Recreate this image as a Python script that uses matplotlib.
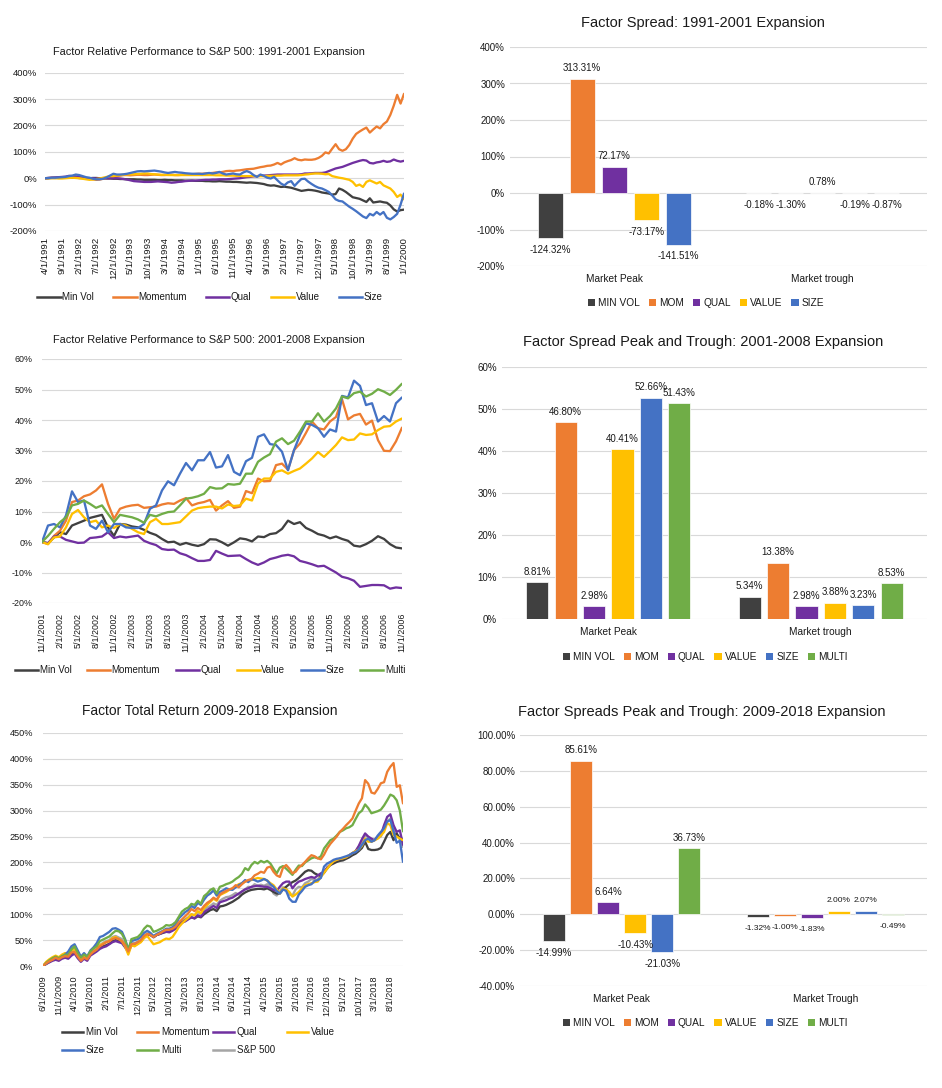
"""Six-panel factor performance figure: relative-performance lines and peak/trough spread bars."""

import matplotlib
matplotlib.use("Agg")
import matplotlib.pyplot as plt
from matplotlib.lines import Line2D
from matplotlib.patches import Patch

plt.rcParams["font.family"] = ["Liberation Sans", "DejaVu Sans"]

W, H = 942, 1088
TEXT = "#1a1a1a"
GRID = "#D9D9D9"

MIN_VOL_C = "#404040"
MOM_C = "#ED7D31"
QUAL_C = "#7030A0"
VALUE_C = "#FFC000"
SIZE_C = "#4472C4"
MULTI_C = "#70AD47"
SP_C = "#A5A5A5"

# ---------------- panel 1: 1991-2001 relative performance (monthly, %) ----------------
P1_XLABELS = ["4/1/1991", "9/1/1991", "2/1/1992", "7/1/1992", "12/1/1992", "5/1/1993",
              "10/1/1993", "3/1/1994", "8/1/1994", "1/1/1995", "6/1/1995", "11/1/1995",
              "4/1/1996", "9/1/1996", "2/1/1997", "7/1/1997", "12/1/1997", "5/1/1998",
              "10/1/1998", "3/1/1999", "8/1/1999", "1/1/2000"]
P1_MIN_VOL = [0, 0, 1, 1, 2, 2, 3, 3, 2, 2, 1, 1, 0, 0, 1, 1, 0, 0, -1, -1, -2,
              -2, -3, -3, -4, -4, -4, -5, -5, -6, -6,
              -6, -6, -7, -7, -6, -7, -7, -8, -8, -8, -9, -9, -9, -10, -10, -10, -11, -11, -12, -12,
              -11, -12, -13, -13, -14, -14, -15, -16, -17, -16,
              -17, -18, -20, -22, -26, -28, -27, -30, -33, -32,
              -34, -36, -40, -44, -48, -46, -44, -45, -47, -50,
              -54, -56, -58, -62, -60, -39, -44, -52, -62, -72,
              -75, -78, -84, -90, -76, -92, -90, -88, -91, -93,
              -103, -118, -126, -121, -119]
P1_MOMENTUM = [0, 1, 2, 2, 3, 2, 3, 3, 2, 2, 1, 1, 0, -2, -4, -6, -5, -2, 0, 3, 6,
               8, 10, 12, 12, 11, 12, 13, 13, 12, 12,
               13, 14, 13, 12, 12, 13, 13, 12, 12, 13,
               14, 15, 15, 16, 17, 17, 18, 19, 20, 22,
               22, 24, 27, 28, 27, 29, 30, 32, 34, 35,
               36, 39, 42, 44, 47, 48, 52, 58, 52, 60,
               65, 69, 76, 70, 68, 71, 70, 70, 72, 77,
               85, 98, 94, 112, 129, 110, 104, 110, 126, 150,
               168, 177, 185, 192, 173, 185, 196, 189, 205, 215,
               240, 275, 316, 283, 320]
P1_QUAL = [0, 1, 2, 3, 4, 5, 6, 9, 8, 7, 5, 2, 0, 0, 0, -1, -1, 0, 0, 0, 0,
           0, -1, -3, -5, -8, -11, -12, -13, -14, -14,
           -14, -13, -12, -13, -14, -15, -17, -16, -14, -13,
           -11, -10, -9, -9, -8, -7, -6, -6, -5, -5,
           -4, -4, -4, -3, -2, -1, 0, 2, 4, 5,
           7, 8, 9, 10, 11, 12, 13, 14, 14, 14,
           14, 14, 14, 14, 15, 18, 18, 19, 20, 20,
           20, 22, 27, 32, 37, 40, 43, 48, 53, 58,
           62, 66, 69, 67, 58, 56, 60, 62, 66, 62,
           64, 71, 66, 63, 66]
P1_VALUE = [0, 0, 0, 0, -1, -1, 0, 1, 2, 1, 0, -2, -4, -6, -5, -3, -1, 2, 5, 8, 8,
            10, 12, 13, 14, 15, 15, 16, 17, 18, 18,
            16, 15, 14, 13, 13, 12, 12, 12, 12, 12,
            12, 12, 12, 12, 12, 12, 12, 12, 12, 11,
            11, 11, 10, 10, 10, 9, 9, 8, 8, 8,
            8, 8, 8, 8, 9, 9, 9, 10, 10, 11,
            11, 11, 11, 11, 12, 14, 15, 17, 18, 18,
            17, 15, 16, 8, 5, 2, 0, -3, -6, -14,
            -29, -24, -33, -14, -8, -14, -20, -14, -27, -33,
            -39, -52, -71, -62, -80]
P1_SIZE = [0, 1, 2, 2, 3, 4, 5, 8, 10, 14, 12, 8, 4, 2, -2, -4, -4, -2, 3, 10, 17,
           14, 14, 15, 17, 20, 23, 26, 27, 26, 27,
           28, 29, 27, 25, 22, 20, 22, 24, 22, 21,
           19, 18, 17, 17, 17, 16, 18, 20, 18, 20,
           24, 18, 14, 16, 18, 15, 14, 22, 27, 22,
           12, 5, 14, 9, 2, -1, 5, -8, -20, -27,
           -16, -11, -29, -15, -3, -2, -13, -22, -30, -36,
           -39, -45, -52, -65, -80, -86, -88, -98, -108, -116,
           -125, -135, -145, -151, -135, -141, -128, -138, -128, -150,
           -156, -147, -135, -100, -58]

# ---------------- panel 3: 2001-2008 relative performance (monthly, %) ----------------
P3_XLABELS = ["11/1/2001", "2/1/2002", "5/1/2002", "8/1/2002", "11/1/2002", "2/1/2003",
              "5/1/2003", "8/1/2003", "11/1/2003", "2/1/2004", "5/1/2004", "8/1/2004",
              "11/1/2004", "2/1/2005", "5/1/2005", "8/1/2005", "11/1/2005", "2/1/2006",
              "5/1/2006", "8/1/2006", "11/1/2006"]
P3_MIN_VOL = [0, -0.4, 1.5, 3.2, 2.6, 5.4, 6.2, 7.0, 7.9, 8.4, 8.9, 4.8, 2.0, 5.9, 5.7, 5.1,
              4.8, 4.0, 3.0, 2.3, 1.0, -0.1, 0.1, -0.9, -0.3, -0.9, -1.3, -0.7, 0.9, 0.8,
              -0.1, -1.2, -0.1, 1.2, 0.9, 0.2, 1.8, 1.6, 2.6, 2.9, 4.3, 7.0, 5.9, 6.5, 4.6,
              3.7, 2.6, 2.1, 1.2, 1.8, 1.0, 0.4, -1.2, -1.5, -0.7, 0.4, 1.9, 1.0, -0.7, -1.8, -2.1]
P3_MOMENTUM = [0, -0.7, 2.0, 3.7, 7.0, 13.1, 13.6, 15.0, 15.6, 16.9, 18.9, 12.5, 7.6, 10.9,
               11.6, 12.0, 12.2, 11.2, 11.4, 11.6, 12.3, 12.7, 12.5, 13.6, 14.4, 12.0, 12.7,
               13.1, 13.8, 10.3, 12.0, 13.4, 11.2, 11.6, 16.7, 16.0, 20.8, 19.9, 20.0, 25.2,
               25.7, 23.7, 30.1, 32.3, 35.8, 39.5, 37.3, 36.9, 39.5, 41.0, 46.8, 40.2, 41.5,
               42.0, 38.5, 39.8, 33.4, 29.9, 29.8, 33.0, 37.5]
P3_QUAL = [0, -0.4, 1.8, 1.8, 0.7, 0.2, -0.3, -0.2, 1.3, 1.5, 1.8, 3.2, 1.3, 1.8, 1.5, 1.8,
           2.1, 0.4, -0.4, -1.0, -2.3, -2.6, -2.5, -3.7, -4.3, -5.3, -6.2, -6.2, -5.9, -2.9,
           -3.8, -4.6, -4.5, -4.4, -5.6, -6.7, -7.5, -6.7, -5.6, -5.1, -4.5, -4.2, -4.7, -6.2,
           -6.7, -7.3, -8.0, -7.8, -8.9, -10.0, -11.4, -11.9, -12.7, -14.7, -14.4, -14.1,
           -14.1, -14.2, -15.3, -14.9, -15.1]
P3_VALUE = [0, -0.7, 1.5, 1.8, 4.8, 9.2, 10.5, 8.1, 6.5, 7.0, 4.8, 5.4, 4.6, 5.9, 5.4, 4.3,
            3.2, 2.6, 6.5, 7.6, 5.9, 5.9, 6.2, 6.5, 8.4, 10.3, 11.1, 11.4, 11.6, 11.6, 11.0,
            12.3, 11.8, 12.0, 14.2, 13.6, 19.1, 20.8, 20.8, 23.0, 23.5, 22.4, 23.3, 24.1,
            25.7, 27.4, 29.5, 27.9, 29.8, 31.8, 34.3, 33.4, 33.6, 35.6, 35.1, 35.3, 36.7,
            37.8, 38.0, 39.5, 40.5]
P3_SIZE = [0, 5.4, 5.9, 4.8, 8.7, 16.6, 13.1, 13.6, 5.4, 4.3, 7.0, 3.2, 5.9, 5.9, 4.8, 4.6,
           4.6, 5.9, 10.9, 12.0, 16.9, 19.9, 18.6, 22.4, 25.9, 23.5, 26.8, 26.8, 29.5, 24.4,
           24.8, 28.5, 23.0, 21.9, 26.5, 27.6, 34.5, 35.3, 32.1, 31.8, 29.6, 23.5, 30.1, 35.1,
           38.9, 38.4, 37.3, 34.5, 36.9, 36.2, 47.9, 47.4, 52.9, 51.2, 44.9, 45.5, 39.5, 41.3,
           39.5, 45.5, 47.4]
P3_MULTI = [0, 2.0, 4.3, 6.5, 8.1, 12.0, 12.5, 13.6, 12.5, 11.2, 12.0, 9.2, 6.5, 8.9, 8.5,
            8.1, 7.4, 6.3, 8.9, 8.4, 9.2, 9.8, 10.0, 12.0, 14.2, 14.5, 15.0, 15.8, 18.0, 17.5,
            17.6, 19.0, 18.8, 19.1, 22.4, 22.4, 26.3, 27.7, 28.8, 32.9, 34.0, 32.1, 33.2, 36.2,
            39.5, 39.5, 42.2, 39.5, 41.3, 43.8, 47.7, 47.1, 48.8, 49.3, 47.7, 48.6, 50.1, 49.3,
            48.2, 49.9, 51.9]

# ---------------- panel 5: 2009-2018 total return (monthly, %) ----------------
P5_XLABELS = ["6/1/2009", "11/1/2009", "4/1/2010", "9/1/2010", "2/1/2011", "7/1/2011",
              "12/1/2011", "5/1/2012", "10/1/2012", "3/1/2013", "8/1/2013", "1/1/2014",
              "6/1/2014", "11/1/2014", "4/1/2015", "9/1/2015", "2/1/2016", "7/1/2016",
              "12/1/2016", "5/1/2017", "10/1/2017", "3/1/2018", "8/1/2018"]
P5_MIN_VOL = [0, 4, 8, 12, 14, 12, 16, 18, 17, 24,
              26, 18, 12, 18, 14, 22, 26, 30, 35, 38,
              40, 43, 48, 50, 48, 46, 38, 28, 42, 42,
              45, 48, 55, 60, 60, 56, 60, 62, 64, 66,
              66, 70, 74, 80, 84, 88, 92, 94, 92, 96,
              94, 100, 104, 108, 110, 106, 115, 116, 118, 121,
              124, 128, 132, 138, 142, 145, 147, 148, 149, 149,
              148, 150, 147, 143, 140, 140, 148, 153, 158, 162,
              165, 170, 176, 182, 185, 184, 179, 176, 174, 180,
              190, 195, 198, 201, 203, 204, 207, 210, 214, 217,
              222, 228, 240, 226, 224, 224, 225, 228, 240, 253,
              259, 243, 256, 246, 245]
P5_MOMENTUM = [0, 5, 9, 12, 16, 13, 17, 19, 18, 26,
               27, 18, 10, 16, 13, 22, 28, 32, 38, 42,
               46, 48, 52, 54, 52, 48, 40, 28, 42, 43,
               46, 50, 58, 62, 60, 56, 60, 63, 67, 70,
               70, 72, 76, 84, 90, 96, 102, 110, 106, 112,
               108, 116, 122, 126, 132, 128, 138, 142, 145, 148,
               150, 156, 152, 158, 163, 166, 168, 175, 178, 182,
               180, 190, 192, 182, 175, 172, 190, 195, 188, 179,
               182, 190, 195, 201, 208, 214, 212, 208, 206, 215,
               227, 236, 243, 250, 259, 265, 272, 278, 285, 300,
               314, 324, 359, 352, 335, 333, 342, 353, 355, 375,
               385, 392, 346, 349, 314]
P5_QUAL = [0, 4, 7, 10, 12, 10, 14, 16, 14, 20,
           24, 15, 8, 14, 10, 20, 24, 28, 33, 36,
           38, 42, 46, 48, 46, 44, 36, 26, 40, 40,
           44, 48, 55, 60, 60, 56, 60, 62, 65, 66,
           65, 68, 72, 78, 84, 86, 90, 94, 92, 98,
           95, 104, 108, 112, 116, 112, 123, 125, 127, 130,
           132, 136, 140, 144, 148, 150, 153, 154, 155, 154,
           153, 153, 150, 147, 145, 153, 160, 163, 163, 150,
           158, 163, 165, 168, 170, 172, 170, 175, 179, 182,
           190, 196, 202, 205, 207, 208, 210, 214, 218, 222,
           232, 245, 256, 250, 246, 243, 250, 253, 272, 288,
           293, 272, 259, 262, 234]
P5_VALUE = [0, 8, 13, 17, 20, 17, 22, 25, 23, 30,
            33, 22, 13, 19, 14, 24, 28, 32, 40, 43,
            46, 48, 54, 56, 52, 48, 38, 22, 40, 38,
            42, 46, 54, 58, 50, 42, 44, 46, 50, 53,
            52, 56, 65, 75, 82, 88, 93, 100, 98, 106,
            102, 112, 118, 124, 130, 126, 137, 140, 143, 147,
            150, 154, 158, 160, 163, 165, 166, 168, 170, 169,
            168, 165, 160, 156, 148, 140, 150, 148, 143, 134,
            138, 143, 150, 156, 158, 160, 162, 163, 172, 180,
            188, 196, 202, 205, 207, 208, 210, 214, 218, 222,
            225, 232, 246, 240, 240, 243, 246, 252, 259, 276,
            272, 253, 250, 246, 243]
P5_SIZE = [0, 5, 9, 13, 17, 14, 18, 22, 28, 38,
           42, 30, 18, 25, 18, 30, 36, 44, 56, 58,
           62, 66, 72, 73, 70, 66, 52, 32, 48, 50,
           52, 56, 64, 68, 64, 58, 62, 65, 68, 72,
           72, 75, 80, 92, 98, 104, 108, 116, 112, 122,
           118, 128, 136, 140, 146, 136, 143, 146, 150, 148,
           147, 152, 156, 160, 166, 162, 168, 166, 163, 165,
           168, 165, 158, 153, 145, 140, 148, 145, 130, 124,
           124, 138, 145, 153, 156, 158, 164, 166, 170, 192,
           198, 201, 205, 207, 208, 210, 212, 214, 218, 220,
           225, 234, 243, 246, 240, 243, 252, 259, 266, 279,
           282, 260, 238, 242, 201]
P5_MULTI = [0, 6, 11, 15, 18, 15, 19, 22, 21, 32,
            38, 25, 16, 22, 18, 28, 34, 38, 48, 51,
            54, 57, 63, 68, 67, 62, 50, 30, 52, 54,
            56, 62, 72, 78, 76, 66, 68, 71, 74, 79,
            78, 80, 85, 95, 105, 110, 113, 120, 118, 126,
            120, 135, 140, 147, 150, 140, 153, 155, 158, 160,
            163, 168, 172, 178, 189, 185, 195, 201, 198, 203,
            200, 203, 198, 188, 179, 190, 193, 188, 182, 176,
            186, 194, 193, 200, 204, 208, 210, 208, 212, 227,
            235, 243, 246, 252, 259, 262, 266, 268, 272, 284,
            295, 300, 312, 305, 295, 297, 299, 302, 310, 320,
            331, 328, 320, 300, 260]
P5_SP500 = [0, 6, 10, 13, 17, 15, 19, 22, 20, 27,
            30, 20, 12, 20, 15, 25, 30, 33, 40, 45,
            48, 50, 56, 58, 55, 52, 42, 30, 45, 44,
            47, 50, 58, 63, 62, 55, 60, 62, 66, 68,
            67, 70, 73, 80, 86, 90, 94, 100, 98, 104,
            100, 108, 113, 116, 121, 118, 126, 130, 133, 134,
            137, 141, 138, 144, 148, 153, 152, 158, 155, 157,
            155, 158, 154, 140, 136, 144, 152, 150, 138, 136,
            148, 153, 152, 160, 163, 168, 166, 167, 176, 181,
            188, 196, 202, 205, 207, 208, 210, 214, 218, 222,
            230, 240, 253, 248, 240, 243, 247, 250, 266, 279,
            285, 266, 253, 245, 230]

# ---------------- bar panels: factor spreads at peak and trough (%) ----------------
BAR5_NAMES = ["MIN VOL", "MOM", "QUAL", "VALUE", "SIZE"]
BAR6_NAMES = ["MIN VOL", "MOM", "QUAL", "VALUE", "SIZE", "MULTI"]
P2_CATS = ["Market Peak", "Market trough"]
P2_PEAK = [-124.32, 313.31, 72.17, -73.17, -141.51]
P2_TROUGH = [-0.18, -1.30, 0.78, -0.19, -0.87]
P4_CATS = ["Market Peak", "Market trough"]
P4_PEAK = [8.81, 46.80, 2.98, 40.41, 52.66, 51.43]
P4_TROUGH = [5.34, 13.38, 2.98, 3.88, 3.23, 8.53]
P6_CATS = ["Market Peak", "Market Trough"]
P6_PEAK = [-14.99, 85.61, 6.64, -10.43, -21.03, 36.73]
P6_TROUGH = [-1.32, -1.00, -1.83, 2.00, 2.07, -0.49]


def px_axes(fig, left, top, right, bottom):
    return fig.add_axes([left / W, 1 - bottom / H, (right - left) / W, (bottom - top) / H])


def style_axis(ax):
    for spine in ax.spines.values():
        spine.set_visible(False)
    ax.grid(axis="y", color=GRID, linewidth=0.8)
    ax.set_axisbelow(True)
    ax.tick_params(length=0, colors=TEXT)


def fig_xy(x, y):
    return x / W, 1 - y / H


def line_panel(fig, rect, series, yticks, xlabels, xstep, fs, ypad, xpad):
    ax = px_axes(fig, *rect)
    style_axis(ax)
    for name, vals, color in series:
        ax.plot(range(len(vals)), vals, color=color, lw=1.65, label=name,
                solid_joinstyle="round", solid_capstyle="round")
    n = len(series[0][1])
    ax.set_xlim(0, n - 1)
    ax.set_ylim(yticks[0], yticks[-1])
    ax.set_yticks(yticks)
    ax.set_yticklabels([f"{t}%" for t in yticks], fontsize=fs)
    ax.set_xticks(range(0, xstep * len(xlabels), xstep))
    ax.set_xticklabels(xlabels, rotation=90, fontsize=fs)
    ax.tick_params(axis="y", pad=ypad)
    ax.tick_params(axis="x", pad=xpad)
    return ax


def bar_panel(fig, rect, cats, names, colors, peak, trough, yticks, ylabels, step, width,
              trough_fs=7):
    ax = px_axes(fig, *rect)
    style_axis(ax)
    n = len(names)
    for k, (name, color) in enumerate(zip(names, colors)):
        off = (k - (n - 1) / 2) * step
        vals = [peak[k], trough[k]]
        xs = [0 + off, 1 + off]
        ax.bar(xs, vals, width=width, color=color, edgecolor="white", linewidth=0.5, label=name)
        for x, v, fs in zip(xs, vals, [7, trough_fs]):
            dy = 7.5 if v >= 0 else -8.5
            ax.annotate(f"{v:.2f}%", (x, v), xytext=(0, dy), textcoords="offset points",
                        ha="center", va="center", fontsize=fs, color=TEXT)
    ax.set_xlim(-0.5, 1.5)
    ax.set_ylim(yticks[0], yticks[-1])
    ax.set_yticks(yticks)
    ax.set_yticklabels(ylabels, fontsize=7)
    ax.set_xticks([0, 1])
    ax.set_xticklabels(cats, fontsize=7.3)
    ax.tick_params(axis="x", pad=5.5)
    return ax


def line_legend(fig, names, colors, center, fs=7, spacing=2.0):
    handles = [Line2D([], [], color=c, lw=1.8) for c in colors]
    fig.legend(handles, names, loc="center", bbox_to_anchor=fig_xy(*center), ncol=len(names),
               frameon=False, fontsize=fs, handlelength=2.4, handletextpad=0.15,
               columnspacing=spacing, borderpad=0, labelcolor=TEXT)


def bar_legend(fig, names, colors, center):
    handles = [Patch(facecolor=c) for c in colors]
    fig.legend(handles, names, loc="center", bbox_to_anchor=fig_xy(*center), ncol=len(names),
               frameon=False, fontsize=7.3, handlelength=0.7, handleheight=0.7,
               handletextpad=0.3, columnspacing=0.9, borderpad=0, labelcolor=TEXT)


fig = plt.figure(figsize=(W / 100, H / 100), dpi=100)

# panel 1
p1_names = ["Min Vol", "Momentum", "Qual", "Value", "Size"]
p1_colors = [MIN_VOL_C, MOM_C, QUAL_C, VALUE_C, SIZE_C]
line_panel(fig, (45, 72.7, 404, 231),
           list(zip(p1_names, [P1_MIN_VOL, P1_MOMENTUM, P1_QUAL, P1_VALUE, P1_SIZE], p1_colors)),
           [-200, -100, 0, 100, 200, 300, 400], P1_XLABELS, 5, 6.8, 5.8, 4.3)
fig.text(*fig_xy(209, 52), "Factor Relative Performance to S&P 500: 1991-2001 Expansion",
         ha="center", va="center", fontsize=7.9, color=TEXT)
line_legend(fig, p1_names, p1_colors, (210, 297))

# panel 3
p3_names = ["Min Vol", "Momentum", "Qual", "Value", "Size", "Multi"]
p3_colors = [MIN_VOL_C, MOM_C, QUAL_C, VALUE_C, SIZE_C, MULTI_C]
line_panel(fig, (42, 359, 402, 603),
           list(zip(p3_names, [P3_MIN_VOL, P3_MOMENTUM, P3_QUAL, P3_VALUE, P3_SIZE, P3_MULTI],
                    p3_colors)),
           [-20, -10, 0, 10, 20, 30, 40, 50, 60], P3_XLABELS, 3, 6.4, 7, 7)
fig.text(*fig_xy(209, 340), "Factor Relative Performance to S&P 500: 2001-2008 Expansion",
         ha="center", va="center", fontsize=7.9, color=TEXT)
line_legend(fig, p3_names, p3_colors, (210, 670), spacing=1.6)

# panel 5
p5_names = ["Min Vol", "Momentum", "Qual", "Value", "Size", "Multi", "S&P 500"]
p5_colors = [MIN_VOL_C, MOM_C, QUAL_C, VALUE_C, SIZE_C, MULTI_C, SP_C]
p5_series = [P5_MIN_VOL, P5_MOMENTUM, P5_QUAL, P5_VALUE, P5_SIZE, P5_MULTI, P5_SP500]
draw_order = [6, 0, 2, 3, 4, 5, 1]
line_panel(fig, (43, 733, 403, 966),
           [(p5_names[k], p5_series[k], p5_colors[k]) for k in draw_order],
           [0, 50, 100, 150, 200, 250, 300, 350, 400, 450], P5_XLABELS, 5, 6.6, 7, 6.5)
fig.text(*fig_xy(210, 711), "Factor Total Return 2009-2018 Expansion",
         ha="center", va="center", fontsize=9.9, color=TEXT)
p5_slots = [(62, 1032), (137, 1032), (213, 1032), (287, 1032), (62, 1050), (137, 1050), (213, 1050)]
for name, color, (lx, ly) in zip(p5_names, p5_colors, p5_slots):
    fig.legend([Line2D([], [], color=color, lw=1.8)], [name], loc="center left",
               bbox_to_anchor=fig_xy(lx, ly), frameon=False, fontsize=7, handlelength=2.2,
               handletextpad=0.25, borderpad=0, borderaxespad=0, labelcolor=TEXT)

# panel 2
b5_colors = [MIN_VOL_C, MOM_C, QUAL_C, VALUE_C, SIZE_C]
t2 = [-200, -100, 0, 100, 200, 300, 400]
bar_panel(fig, (510, 47, 927, 266), P2_CATS, BAR5_NAMES, b5_colors, P2_PEAK, P2_TROUGH,
          t2, [f"{t}%" for t in t2], 0.1535, 0.12)
fig.text(*fig_xy(703, 23), "Factor Spread: 1991-2001 Expansion",
         ha="center", va="center", fontsize=10.5, color=TEXT)
bar_legend(fig, BAR5_NAMES, b5_colors, (706, 303))

# panel 4
b6_colors = [MIN_VOL_C, MOM_C, QUAL_C, VALUE_C, SIZE_C, MULTI_C]
t4 = [0, 10, 20, 30, 40, 50, 60]
bar_panel(fig, (502, 367, 927, 619), P4_CATS, BAR6_NAMES, b6_colors, P4_PEAK, P4_TROUGH,
          t4, [f"{t}%" for t in t4], 0.1336, 0.105)
fig.text(*fig_xy(703, 342), "Factor Spread Peak and Trough: 2001-2008 Expansion",
         ha="center", va="center", fontsize=10.5, color=TEXT)
bar_legend(fig, BAR6_NAMES, b6_colors, (705, 657))

# panel 6
t6 = [-40, -20, 0, 20, 40, 60, 80, 100]
bar_panel(fig, (520, 735, 927, 986), P6_CATS, BAR6_NAMES, b6_colors, P6_PEAK, P6_TROUGH,
          t6, [f"{t:.2f}%" for t in t6], 0.1327, 0.106, trough_fs=6.0)
fig.text(*fig_xy(702, 712), "Factor Spreads Peak and Trough: 2009-2018 Expansion",
         ha="center", va="center", fontsize=10.5, color=TEXT)
bar_legend(fig, BAR6_NAMES, b6_colors, (705, 1023))

fig.savefig("out.png", dpi=100)
